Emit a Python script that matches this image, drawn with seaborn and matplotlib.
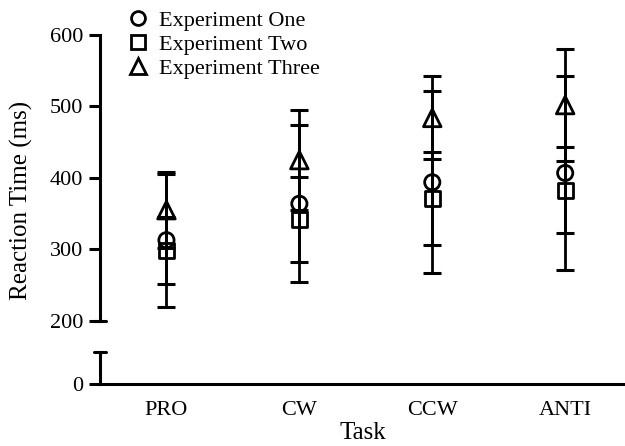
import pandas as pd
import matplotlib.pyplot as plt
from matplotlib.lines import Line2D
import seaborn as sns

# Data
tasks = ['PRO', 'CW', 'CCW', 'ANTI']
experiments = ['Experiment One', 'Experiment Two', 'Experiment Three']
exp_one_mean = [313, 364, 394, 407]
exp_one_err = [93, 110, 127, 135]
exp_two_mean = [299, 342, 371, 383]
exp_two_err = [47, 60, 65, 60]
exp_three_mean = [355, 425, 484, 502]
exp_three_err = [53, 70, 58, 78]

markers = {'Experiment One': 'o', 'Experiment Two': 's', 'Experiment Three': '^'}
sizes = {'Experiment One': 120, 'Experiment Two': 115, 'Experiment Three': 160}

# Long table for seaborn
rows = []
for name, means, errs in zip(experiments,
                             [exp_one_mean, exp_two_mean, exp_three_mean],
                             [exp_one_err, exp_two_err, exp_three_err]):
    for i, t in enumerate(tasks):
        rows.append({'Task': t, 'pos': i + 1, 'Experiment': name,
                     'RT': means[i], 'err': errs[i]})
df = pd.DataFrame(rows)

sns.set_style('ticks')
plt.rcParams['font.family'] = ['Liberation Serif', 'DejaVu Serif']
plt.rcParams['axes.linewidth'] = 2.2
plt.rcParams['axes.edgecolor'] = 'black'
plt.rcParams['xtick.color'] = 'black'
plt.rcParams['ytick.color'] = 'black'
plt.rcParams['text.color'] = 'black'
plt.rcParams['axes.labelcolor'] = 'black'

fig = plt.figure(figsize=(6.25, 4.46), dpi=100)
ax_top = fig.add_axes([0.16, 0.2803, 0.84, 0.6413])
ax_bot = fig.add_axes([0.16, 0.139, 0.84, 0.0717])

# Error bars
for name in experiments:
    d = df[df['Experiment'] == name]
    ax_top.errorbar(d['pos'], d['RT'], yerr=d['err'], fmt='none',
                    ecolor='black', elinewidth=2.2, capsize=6.5,
                    capthick=2.2, zorder=3)

# Markers
for name in experiments:
    d = df[df['Experiment'] == name]
    sns.scatterplot(data=d, x='pos', y='RT', marker=markers[name],
                    s=sizes[name], ax=ax_top, zorder=4, legend=False)
for coll in ax_top.collections:
    coll.set_facecolor('none')
    coll.set_edgecolor('black')
    coll.set_linewidth(2.0)

xlim = (0.5, 4.45)
ax_top.set_xlim(*xlim)
ax_bot.set_xlim(*xlim)
ax_top.set_ylim(200, 600)
ax_bot.set_ylim(0, 45)

# Top part
ax_top.set_yticks([200, 300, 400, 500, 600])
ax_top.set_xticks([])
for s in ['top', 'right', 'bottom']:
    ax_top.spines[s].set_visible(False)
ax_top.set_xlabel('')
ax_top.set_ylabel('')
ax_top.tick_params(axis='y', labelsize=16, length=8, width=2.2, pad=4)

# Bottom part
ax_bot.set_yticks([0])
ax_bot.set_xticks([1, 2, 3, 4])
ax_bot.set_xticklabels(tasks)
for s in ['top', 'right']:
    ax_bot.spines[s].set_visible(False)
ax_bot.tick_params(axis='y', labelsize=16, length=8, width=2.2, pad=4)
ax_bot.tick_params(axis='x', labelsize=16, length=0, pad=12)
ax_bot.set_xlabel('Task', fontsize=18, labelpad=2)
ax_bot.set_ylabel('')

# Break caps on the y axis
ax_top.plot([-0.012, 0.012], [0, 0], transform=ax_top.transAxes,
            color='black', lw=2.2, clip_on=False)
ax_bot.plot([-0.012, 0.012], [1, 1], transform=ax_bot.transAxes,
            color='black', lw=2.2, clip_on=False)

fig.text(0.035, 0.55, 'Reaction Time (ms)', rotation=90, fontsize=18,
         ha='center', va='center')

handles = [Line2D([], [], marker=markers[n], linestyle='none', color='black',
                  markerfacecolor='none', markeredgewidth=2.0,
                  markersize=10 if n != 'Experiment Three' else 11.5)
           for n in experiments]
fig.legend(handles, experiments, loc='upper left',
           bbox_to_anchor=(0.178, 1.012), frameon=False, fontsize=16,
           handletextpad=0.45, labelspacing=0.15, borderpad=0.2,
           handlelength=1.0)

fig.savefig('out.png', dpi=100)
